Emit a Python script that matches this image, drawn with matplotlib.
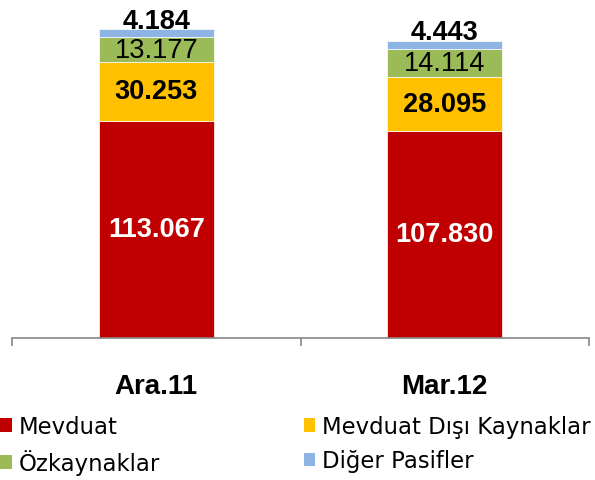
import matplotlib
matplotlib.use('Agg')
import matplotlib.pyplot as plt
from matplotlib.patches import Patch
import numpy as np

categories = ['Ara.11', 'Mar.12']
series_names = ['Mevduat', 'Mevduat Dışı Kaynaklar', 'Özkaynaklar', 'Diğer Pasifler']
mevduat = [113.067, 107.830]
mevduat_disi = [30.253, 28.095]
ozkaynak = [13.177, 14.114]
diger = [4.184, 4.443]
colors = ['#C00000', '#FFC000', '#9BBB59', '#8EB4E3']

series = [mevduat, mevduat_disi, ozkaynak, diger]
label_colors = ['white', 'black', 'black', 'black']
label_weights = ['bold', 'bold', 'normal', 'bold']

fig = plt.figure(figsize=(5.95, 4.81), dpi=100)
ax = fig.add_axes([12/595, 1-339/481, (589-12)/595, (339-12)/481])

x = np.arange(len(categories))
bottom = np.zeros(len(categories))
for i, vals in enumerate(series):
    ax.bar(x, vals, width=0.4, bottom=bottom, color=colors[i],
           edgecolor='white', linewidth=0.5, zorder=2)
    for j, v in enumerate(vals):
        txt = f"{v:.3f}"
        if i < 3:
            ax.text(x[j], bottom[j] + v/2, txt, ha='center', va='center',
                    color=label_colors[i], fontweight=label_weights[i],
                    fontsize=19.5, family='Liberation Sans')
        else:
            ax.annotate(txt, (x[j], bottom[j] + v), xytext=(0, 1),
                        textcoords='offset points', ha='center', va='baseline',
                        color='black', fontweight='bold', fontsize=19.5,
                        family='Liberation Sans')
    bottom = bottom + np.array(vals)

ax.set_xlim(-0.5, 1.5)
ax.set_ylim(0, 170)
for s in ['top', 'right', 'left']:
    ax.spines[s].set_visible(False)
ax.spines['bottom'].set_color('#868686')
ax.spines['bottom'].set_linewidth(1.2)
ax.set_yticks([])
ax.set_xticks(x)
ax.set_xticklabels(categories, fontsize=20, fontweight='bold', family='Liberation Sans')
ax.tick_params(axis='x', which='major', length=0, pad=25.5)
ax.set_xticks([-0.5, 0.5, 1.5], minor=True)
ax.tick_params(axis='x', which='minor', length=6, width=1.2, color='#868686', direction='out')

h = [Patch(facecolor=c) for c in colors]
leg_kw = dict(frameon=False, handlelength=0.52, handleheight=0.52,
              handletextpad=0.3, labelspacing=0.5, borderpad=0, borderaxespad=0,
              loc='upper left', prop={'family': 'DejaVu Sans', 'size': 16.4})
leg1 = fig.legend([h[0], h[2]], [series_names[0], series_names[2]],
                  bbox_to_anchor=(0.0, 1-416/481), **leg_kw)
leg2 = fig.legend([h[1], h[3]], [series_names[1], series_names[3]],
                  bbox_to_anchor=(303.6/595, 1-416/481), **leg_kw)

fig.savefig('out.png', dpi=100)
